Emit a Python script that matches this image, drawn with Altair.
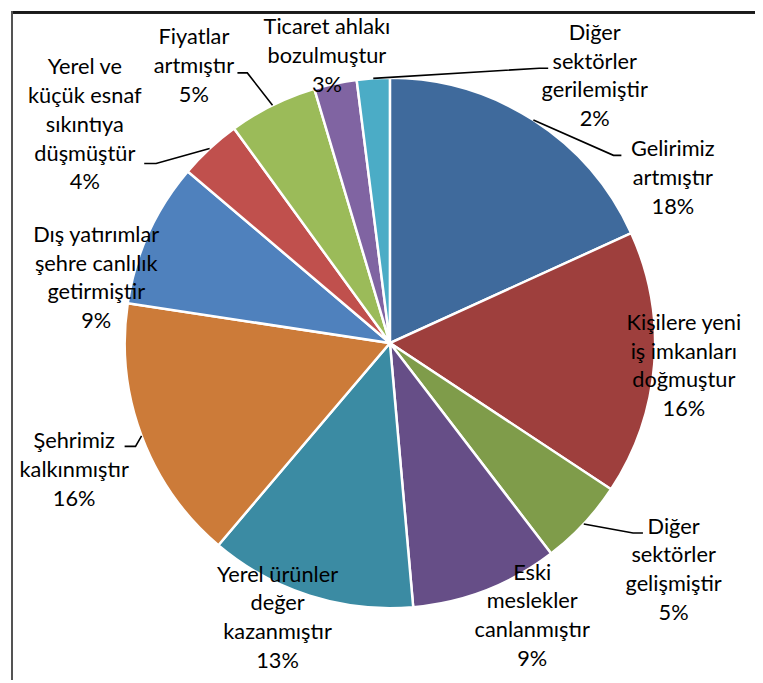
import math
import altair as alt
import pandas as pd

# ---- data ----
categories = [
    "Gelirimiz artmıştır",
    "Kişilere yeni iş imkanları doğmuştur",
    "Diğer sektörler gelişmiştir",
    "Eski meslekler canlanmıştır",
    "Yerel ürünler değer kazanmıştır",
    "Şehrimiz kalkınmıştır",
    "Dış yatırımlar şehre canlılık getirmiştir",
    "Yerel ve küçük esnaf sıkıntıya düşmüştür",
    "Fiyatlar artmıştır",
    "Ticaret ahlakı bozulmuştur",
    "Diğer sektörler gerilemiştir",
]
values = [18.2, 16.1, 5.3, 9.0, 12.6, 16.2, 8.8, 3.8, 5.4, 2.6, 2.0]

# wrapped label text, as in the reference
label_lines = [
    "Gelirimiz\nartmıştır",
    "Kişilere yeni\niş imkanları\ndoğmuştur",
    "Diğer\nsektörler\ngelişmiştir",
    "Eski\nmeslekler\ncanlanmıştır",
    "Yerel ürünler\ndeğer\nkazanmıştır",
    "Şehrimiz\nkalkınmıştır",
    "Dış yatırımlar\nşehre canlılık\ngetirmiştir",
    "Yerel ve\nküçük esnaf\nsıkıntıya\ndüşmüştür",
    "Fiyatlar\nartmıştır",
    "Ticaret ahlakı\nbozulmuştur",
    "Diğer\nsektörler\ngerilemiştir",
]

# ---- styles / layout ----
colors = ["#3F6A9C", "#9E3F3D", "#7F9C4A", "#664E87", "#3B8BA3", "#CC7B39",
          "#4F81BD", "#C0504D", "#9BBB59", "#8064A2", "#4BACC6"]
W, H = 755, 675
CX, CY, R = 386, 335, 268
LH = 29
# label placement: angle nudge (deg) from slice middle, and distance from centre
label_nudge = [27.0, 0.0, -4.4, -6.3, 4.6, -1.4, -12.0, -11.6, -9.0, -0.5, 41.1]
label_radius = [331, 298, 367, 311, 300, 344, 304, 379, 343, 297, 340]
# leader lines: elbow offset from label centre and horizontal tail length
leader = {
    0: (-60, -23, 8),
    2: (-41, -37, 10),
    5: (62, -24, -11),
    7: (72, 39, -12),
    8: (54, 7, -10),
    10: (-56, -8, 9),
}

total = sum(values)
slices = pd.DataFrame({"category": categories, "value": values,
                       "order": list(range(len(values)))})

label_rows, leader_rows = [], []
cum = 0.0
for i, v in enumerate(values):
    mid = (cum + v / 2) / total * 2 * math.pi
    cum += v
    a = mid + math.radians(label_nudge[i])
    lx = CX + label_radius[i] * math.sin(a)
    ly = CY - label_radius[i] * math.cos(a)
    pct = round(v / total * 100)
    txt = f"{label_lines[i]}\n{pct}%"
    n = txt.count("\n") + 1
    label_rows.append({"category": categories[i], "x": lx,
                       "y": ly - (n - 1) / 2 * LH, "text": txt})
    if i in leader:
        ex, ey, tail = leader[i]
        pts = [(CX + R * math.sin(mid), CY - R * math.cos(mid)),
               (lx + ex, ly + ey),
               (lx + ex + tail, ly + ey)]
        for k, (px, py) in enumerate(pts):
            leader_rows.append({"category": categories[i], "seq": k, "x": px, "y": py})

labels = pd.DataFrame(label_rows)
leaders = pd.DataFrame(leader_rows)

pie = alt.Chart(slices).mark_arc(outerRadius=R, stroke="white", strokeWidth=2.5).encode(
    theta=alt.Theta("value:Q", stack=True),
    color=alt.Color("category:N", scale=alt.Scale(domain=categories, range=colors), legend=None),
    order=alt.Order("order:Q"),
    x=alt.value(CX),
    y=alt.value(CY),
)

lead = alt.Chart(leaders).mark_line(color="black", strokeWidth=1.6).encode(
    x=alt.X("x:Q", scale=None),
    y=alt.Y("y:Q", scale=None),
    detail="category:N",
    order="seq:Q",
)

text = alt.Chart(labels).mark_text(
    font="Lato", fontSize=22, lineHeight=LH, align="center", baseline="middle",
    lineBreak="\n", color="black",
).encode(
    x=alt.X("x:Q", scale=None),
    y=alt.Y("y:Q", scale=None),
    text="text:N",
)

frame_top = alt.Chart(slices).mark_rule(color="#1a1a1a", strokeWidth=1.6).encode(
    x=alt.value(4), x2=alt.value(W), y=alt.value(0.8), y2=alt.value(0.8))
frame_left = alt.Chart(slices).mark_rule(color="#555555", strokeWidth=1.7).encode(
    x=alt.value(4), x2=alt.value(4), y=alt.value(0), y2=alt.value(H))

chart = alt.layer(pie, lead, text, frame_top, frame_left).properties(
    width=W, height=H, padding=0, autosize=alt.AutoSizeParams(type="none"),
).configure_view(stroke=None)

chart.save("out.html", embed_options={"renderer": "svg", "actions": False})
